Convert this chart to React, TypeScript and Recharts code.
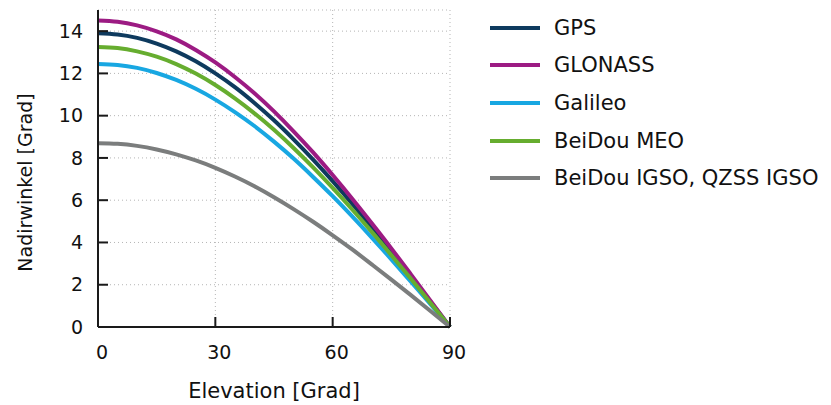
import { LineChart, Line, XAxis, YAxis, CartesianGrid, Legend } from 'recharts';

// Nadir angle [deg] over elevation [deg] per constellation, 5 deg steps
const elevation = [0, 5, 10, 15, 20, 25, 30, 35, 40, 45, 50, 55, 60, 65, 70, 75, 80, 85, 90];
const gps = [13.9, 13.84, 13.68, 13.41, 13.04, 12.57, 12.0, 11.35, 10.6, 9.78, 8.88, 7.92, 6.9, 5.83, 4.71, 3.56, 2.39, 1.2, 0];
const glonass = [14.5, 14.44, 14.27, 13.99, 13.61, 13.11, 12.52, 11.83, 11.06, 10.2, 9.26, 8.26, 7.19, 6.07, 4.91, 3.72, 2.49, 1.25, 0];
const galileo = [12.45, 12.4, 12.26, 12.02, 11.69, 11.27, 10.76, 10.17, 9.51, 8.77, 7.97, 7.1, 6.19, 5.23, 4.23, 3.2, 2.14, 1.08, 0];
const beidouMeo = [13.25, 13.2, 13.04, 12.79, 12.44, 11.99, 11.45, 10.82, 10.11, 9.33, 8.47, 7.55, 6.58, 5.56, 4.5, 3.4, 2.28, 1.14, 0];
const igso = [8.7, 8.67, 8.57, 8.4, 8.17, 7.88, 7.53, 7.12, 6.66, 6.14, 5.58, 4.98, 4.34, 3.67, 2.96, 2.24, 1.51, 0.76, 0];

const xTicks = [0, 30, 60, 90];
const yTicks = [0, 2, 4, 6, 8, 10, 12, 14];

const series = [
    { key: 'gps', name: 'GPS', color: '#0e3a5e' },
    { key: 'glonass', name: 'GLONASS', color: '#9c1b83' },
    { key: 'galileo', name: 'Galileo', color: '#18a7e2' },
    { key: 'beidouMeo', name: 'BeiDou MEO', color: '#66ad2f' },
    { key: 'igso', name: 'BeiDou IGSO, QZSS IGSO', color: '#7b7d7d' },
];

const data = elevation.map((e, i) => ({
    elevation: e,
    gps: gps[i],
    glonass: glonass[i],
    galileo: galileo[i],
    beidouMeo: beidouMeo[i],
    igso: igso[i],
}));

const FONT = '"DejaVu Sans", Verdana, sans-serif';
const frame = { stroke: '#1a1a1a', strokeWidth: 2 };
const tickText = { fill: '#111', fontSize: 19, fontFamily: FONT };
// mirrored axes only draw the frame and their inward tick marks
const noLabel = () => <g />;

export default function App() {
    return (
        <div style={{ position: 'absolute', left: 0, top: 0, width: 831, height: 405, background: '#fff' }}>
            <LineChart
                width={831}
                height={405}
                data={data}
                margin={{ top: 10, right: 381, bottom: 0, left: 0 }}
            >
                <CartesianGrid stroke="#b5b5b5" strokeDasharray="1 3" />
                <XAxis
                    dataKey="elevation"
                    type="number"
                    domain={[0, 90]}
                    ticks={xTicks}
                    height={78}
                    axisLine={frame}
                    tickLine={frame}
                    tickSize={-10}
                    tickMargin={29}
                    tick={{ ...tickText, dx: 4 }}
                    label={{
                        content: (props: any) => {
                            const vb = props.viewBox;
                            return (
                                <text
                                    x={vb.x + vb.width / 2}
                                    y={vb.y + 71}
                                    textAnchor="middle"
                                    fontSize={21}
                                    fontFamily={FONT}
                                    fill="#111"
                                >
                                    Elevation [Grad]
                                </text>
                            );
                        },
                    }}
                />
                <XAxis
                    xAxisId="top"
                    orientation="top"
                    dataKey="elevation"
                    type="number"
                    domain={[0, 90]}
                    ticks={xTicks}
                    height={0}
                    axisLine={frame}
                    tickLine={frame}
                    tickSize={10}
                    tick={noLabel}
                />
                <YAxis
                    type="number"
                    domain={[0, 15]}
                    ticks={yTicks}
                    width={98}
                    axisLine={frame}
                    tickLine={frame}
                    tickSize={-10}
                    tickMargin={25}
                    tick={tickText}
                    label={{
                        content: (props: any) => {
                            const vb = props.viewBox;
                            const cx = vb.x + 32;
                            const cy = vb.y + vb.height / 2 + 14;
                            return (
                                <text
                                    x={cx}
                                    y={cy}
                                    textAnchor="middle"
                                    fontSize={19}
                                    fontFamily={FONT}
                                    fill="#111"
                                    transform={`rotate(-90 ${cx} ${cy})`}
                                >
                                    Nadirwinkel [Grad]
                                </text>
                            );
                        },
                    }}
                />
                <YAxis
                    yAxisId="right"
                    orientation="right"
                    type="number"
                    domain={[0, 15]}
                    ticks={yTicks}
                    width={0}
                    axisLine={frame}
                    tickLine={frame}
                    tickSize={10}
                    tick={noLabel}
                />
                <Legend
                    layout="vertical"
                    align="center"
                    verticalAlign="middle"
                    wrapperStyle={{ left: 490, top: 9, width: 340 }}
                    content={() => (
                        <div>
                            {series.map((s) => (
                                <div key={s.key} style={{ display: 'flex', alignItems: 'center', height: 37.6 }}>
                                    <div style={{ width: 50, height: 4, background: s.color, flex: 'none' }} />
                                    <span
                                        style={{
                                            marginLeft: 14,
                                            fontFamily: FONT,
                                            fontSize: 21,
                                            color: '#111',
                                            whiteSpace: 'nowrap',
                                        }}
                                    >
                                        {s.name}
                                    </span>
                                </div>
                            ))}
                        </div>
                    )}
                />
                {series.map((s) => (
                    <Line
                        key={s.key}
                        type="natural"
                        dataKey={s.key}
                        name={s.name}
                        stroke={s.color}
                        strokeWidth={4}
                        dot={false}
                        activeDot={false}
                        isAnimationActive={false}
                    />
                ))}
            </LineChart>
        </div>
    );
}
